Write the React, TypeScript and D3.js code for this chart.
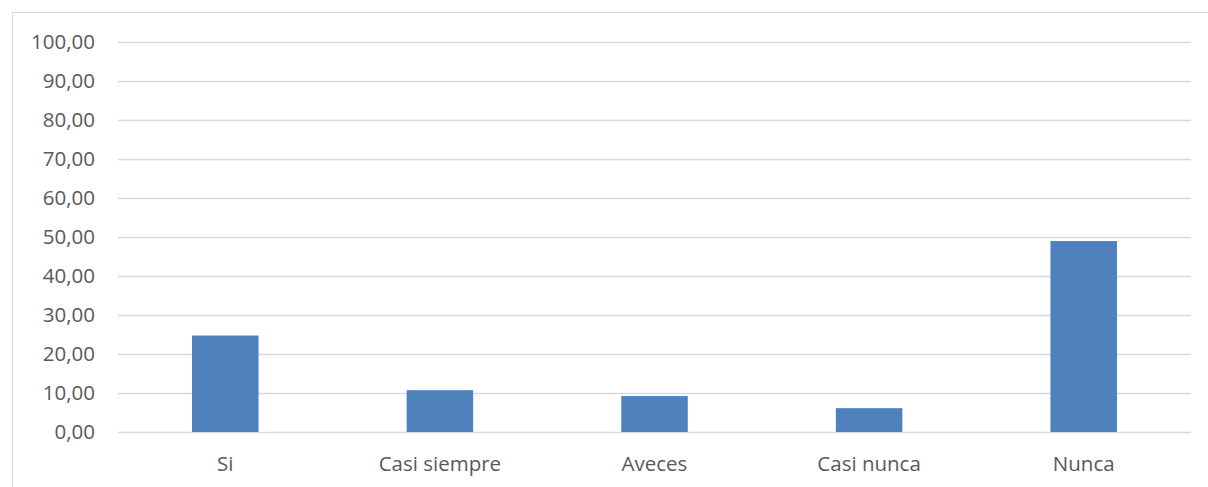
import React from "react";
import * as d3 from "d3";

const categories = ["Si", "Casi siempre", "Aveces", "Casi nunca", "Nunca"];
const values = [24.7, 10.7, 9.2, 6.1, 48.9];
const yTicks = [0, 10, 20, 30, 40, 50, 60, 70, 80, 90, 100];

const W = 1208;
const H = 487;
const margin = { left: 118, right: 17, top: 41.5, bottom: 55 };

export default function App() {
  const x = d3
    .scaleBand<string>()
    .domain(categories)
    .range([margin.left, W - margin.right])
    .paddingInner(0.69)
    .paddingOuter(0.345);
  const y = d3.scaleLinear().domain([0, 100]).range([H - margin.bottom, margin.top]);
  const fmt = (v: number) => v.toFixed(2).replace(".", ",");
  const font = "'Open Sans', 'Noto Sans', sans-serif";
  return (
    <svg
      width={W}
      height={H}
      style={{ position: "absolute", left: 0, top: 0, background: "#fff" }}
    >
      <rect x={12.5} y={12.5} width={W} height={H} fill="#fff" stroke="#d9d9d9" strokeWidth={1} />
      {yTicks.map((t) => (
        <g key={t}>
          <line
            x1={margin.left}
            x2={W - margin.right}
            y1={Math.round(y(t)) + 0.5}
            y2={Math.round(y(t)) + 0.5}
            stroke="#d9d9d9"
            strokeWidth={1.3}
          />
          <text
            x={95}
            y={y(t)}
            dy="0.36em"
            textAnchor="end"
            fontFamily={font}
            fontSize={20.5}
            fill="#595959"
          >
            {fmt(t)}
          </text>
        </g>
      ))}
      {categories.map((c, i) => (
        <rect
          key={c}
          x={x(c)}
          y={y(values[i])}
          width={x.bandwidth()}
          height={y(0) - y(values[i])}
          fill="#4f81bd"
        />
      ))}
      {categories.map((c) => (
        <text
          key={c}
          x={(x(c) as number) + x.bandwidth() / 2}
          y={471}
          textAnchor="middle"
          fontFamily={font}
          fontSize={20.5}
          fill="#595959"
        >
          {c}
        </text>
      ))}
    </svg>
  );
}
